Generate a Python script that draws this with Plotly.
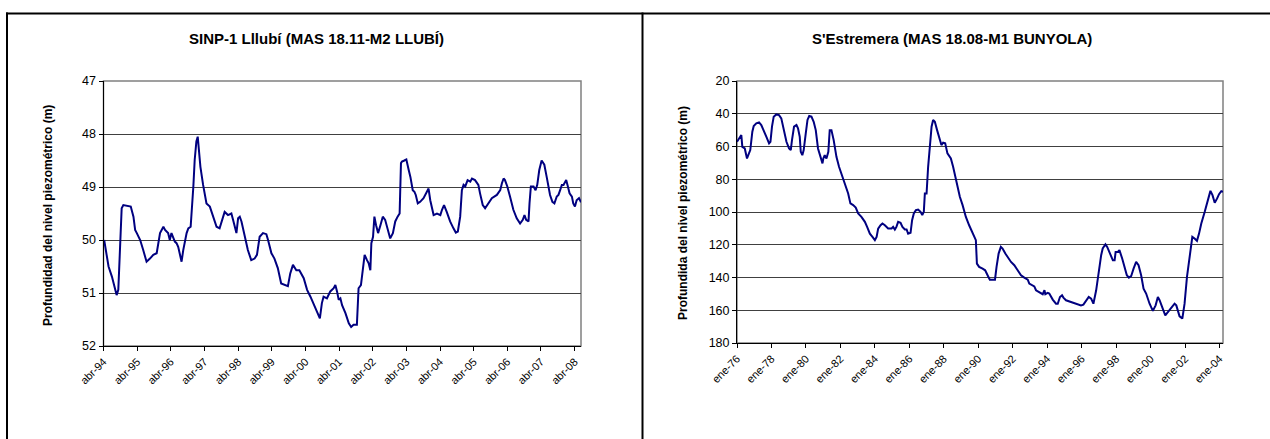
import plotly.graph_objects as go

# ---- SINP-1 Lllubí: depth of the piezometric level (m), time in decimal years
llubi_t = [
    1994.27, 1994.35, 1994.40, 1994.50, 1994.60, 1994.64, 1994.69, 1994.74, 1994.79, 1994.84,
    1994.99, 1995.06, 1995.14, 1995.19, 1995.24, 1995.34, 1995.43, 1995.53, 1995.63, 1995.73,
    1995.83, 1995.88, 1995.93, 1996.03, 1996.08, 1996.17, 1996.22, 1996.27, 1996.37, 1996.42,
    1996.47, 1996.57, 1996.62, 1996.72, 1996.77, 1996.84, 1996.87, 1996.92, 1996.96, 1997.01,
    1997.05, 1997.09, 1997.13, 1997.21, 1997.31, 1997.41, 1997.51, 1997.61, 1997.70, 1997.80,
    1997.85, 1997.95, 1998.05, 1998.10, 1998.20, 1998.25, 1998.30, 1998.35, 1998.45, 1998.54,
    1998.64, 1998.74, 1998.81, 1998.89, 1998.99, 1999.09, 1999.14, 1999.24, 1999.33, 1999.43,
    1999.53, 1999.63, 1999.73, 1999.80, 1999.88, 1999.98, 2000.07, 2000.20, 2000.30, 2000.40,
    2000.50, 2000.60, 2000.68, 2000.74, 2000.79, 2000.89, 2000.99, 2001.09, 2001.14, 2001.19,
    2001.24, 2001.29, 2001.34, 2001.44, 2001.54, 2001.61, 2001.68, 2001.78, 2001.83, 2001.90,
    2001.96, 2002.01, 2002.08, 2002.13, 2002.18, 2002.21, 2002.26, 2002.30, 2002.35, 2002.41,
    2002.48, 2002.55, 2002.62, 2002.67, 2002.72, 2002.77, 2002.85, 2002.92, 2002.99, 2003.05,
    2003.09, 2003.12, 2003.19, 2003.25, 2003.32, 2003.37, 2003.44, 2003.49, 2003.53, 2003.59,
    2003.66, 2003.76, 2003.86, 2003.91, 2003.96, 2004.01, 2004.06, 2004.16, 2004.26, 2004.31,
    2004.37, 2004.45, 2004.55, 2004.65, 2004.72, 2004.78, 2004.85, 2004.90, 2004.95, 2005.00,
    2005.07, 2005.15, 2005.20, 2005.29, 2005.39, 2005.44, 2005.52, 2005.59, 2005.69, 2005.79,
    2005.94, 2006.04, 2006.09, 2006.14, 2006.18, 2006.25, 2006.33, 2006.43, 2006.53, 2006.63,
    2006.71, 2006.76, 2006.81, 2006.88, 2006.91, 2006.95, 2007.03, 2007.09, 2007.14, 2007.20,
    2007.27, 2007.35, 2007.42, 2007.52, 2007.59, 2007.65, 2007.72, 2007.77, 2007.82, 2007.87,
    2007.92, 2008.00, 2008.05, 2008.10, 2008.17, 2008.21, 2008.26, 2008.31, 2008.38, 2008.44,
]
llubi_prof = [
    50.00, 50.31, 50.50, 50.69, 50.94, 51.04, 50.94, 50.31, 49.40, 49.34,
    49.37, 49.37, 49.56, 49.81, 49.87, 50.00, 50.19, 50.41, 50.35, 50.28,
    50.25, 50.06, 49.87, 49.75, 49.81, 49.87, 50.00, 49.87, 50.03, 50.06,
    50.13, 50.41, 50.19, 49.87, 49.78, 49.75, 49.50, 48.99, 48.49, 48.14,
    48.05, 48.30, 48.62, 48.96, 49.31, 49.37, 49.56, 49.75, 49.78, 49.59,
    49.47, 49.53, 49.50, 49.62, 49.87, 49.59, 49.56, 49.65, 49.94, 50.19,
    50.38, 50.35, 50.28, 49.94, 49.87, 49.89, 50.00, 50.25, 50.35, 50.53,
    50.82, 50.85, 50.87, 50.63, 50.47, 50.57, 50.57, 50.72, 50.94, 51.07,
    51.23, 51.38, 51.48, 51.19, 51.07, 51.10, 50.97, 50.91, 50.85, 50.97,
    51.13, 51.10, 51.23, 51.38, 51.57, 51.64, 51.60, 51.60, 50.91, 50.85,
    50.50, 50.28, 50.38, 50.44, 50.57, 50.06, 49.94, 49.56, 49.72, 49.87,
    49.72, 49.56, 49.62, 49.75, 49.87, 49.97, 49.87, 49.65, 49.56, 49.50,
    48.55, 48.52, 48.50, 48.48, 48.68, 48.81, 49.06, 49.09, 49.15, 49.31,
    49.28, 49.21, 49.09, 49.03, 49.25, 49.37, 49.53, 49.50, 49.53, 49.43,
    49.34, 49.47, 49.65, 49.78, 49.86, 49.84, 49.56, 49.06, 48.96, 48.99,
    48.87, 48.90, 48.84, 48.87, 48.96, 49.12, 49.34, 49.40, 49.31, 49.21,
    49.15, 49.06, 48.93, 48.84, 48.87, 48.99, 49.18, 49.43, 49.59, 49.69,
    49.62, 49.53, 49.62, 49.65, 49.31, 48.99, 48.99, 49.06, 48.96, 48.68,
    48.50, 48.58, 48.81, 49.15, 49.28, 49.31, 49.18, 49.15, 49.06, 48.96,
    48.96, 48.87, 48.99, 49.12, 49.18, 49.31, 49.37, 49.25, 49.21, 49.29,
]
llubi_ticks = [1994.25 + k for k in range(15)]
llubi_labels = ["abr-%02d" % (y % 100) for y in range(1994, 2009)]
llubi_yticks = [47, 48, 49, 50, 51, 52]

# ---- S'Estremera: depth of the piezometric level (m), time in decimal years
estremera_t = [
    1976.00, 1976.12, 1976.25, 1976.31, 1976.45, 1976.58, 1976.70, 1976.77, 1976.89, 1976.97,
    1977.12, 1977.28, 1977.41, 1977.55, 1977.70, 1977.86, 1977.94, 1978.03, 1978.13, 1978.28,
    1978.44, 1978.57, 1978.71, 1978.87, 1979.02, 1979.12, 1979.19, 1979.31, 1979.45, 1979.54,
    1979.64, 1979.70, 1979.79, 1979.87, 1979.99, 1980.09, 1980.19, 1980.32, 1980.45, 1980.57,
    1980.70, 1980.84, 1980.96, 1981.01, 1981.09, 1981.19, 1981.30, 1981.38, 1981.48, 1981.61,
    1981.77, 1981.92, 1982.06, 1982.16, 1982.31, 1982.45, 1982.58, 1982.74, 1982.89, 1983.03,
    1983.22, 1983.42, 1983.55, 1983.71, 1983.86, 1984.00, 1984.10, 1984.19, 1984.33, 1984.44,
    1984.58, 1984.77, 1984.97, 1985.06, 1985.16, 1985.25, 1985.35, 1985.49, 1985.60, 1985.74,
    1985.84, 1985.93, 1986.07, 1986.16, 1986.26, 1986.38, 1986.51, 1986.65, 1986.75, 1986.84,
    1986.90, 1987.00, 1987.09, 1987.19, 1987.29, 1987.38, 1987.48, 1987.61, 1987.77, 1987.86,
    1987.96, 1988.08, 1988.21, 1988.41, 1988.54, 1988.70, 1988.79, 1988.93, 1989.09, 1989.28,
    1989.47, 1989.67, 1989.86, 1989.92, 1990.05, 1990.25, 1990.40, 1990.54, 1990.67, 1990.83,
    1990.97, 1991.06, 1991.18, 1991.31, 1991.41, 1991.57, 1991.70, 1991.90, 1992.09, 1992.29,
    1992.48, 1992.67, 1992.87, 1992.96, 1993.12, 1993.25, 1993.35, 1993.50, 1993.64, 1993.74,
    1993.84, 1993.89, 1994.03, 1994.12, 1994.32, 1994.51, 1994.61, 1994.74, 1994.86, 1994.94,
    1995.09, 1995.38, 1995.67, 1995.96, 1996.10, 1996.26, 1996.41, 1996.55, 1996.68, 1996.84,
    1996.99, 1997.13, 1997.22, 1997.38, 1997.48, 1997.66, 1997.81, 1997.91, 1997.97, 1998.10,
    1998.19, 1998.35, 1998.48, 1998.62, 1998.74, 1998.87, 1999.01, 1999.16, 1999.30, 1999.45,
    1999.59, 1999.74, 1999.94, 2000.13, 2000.29, 2000.42, 2000.52, 2000.67, 2000.85, 2001.00,
    2001.20, 2001.39, 2001.49, 2001.59, 2001.68, 2001.84, 2001.97, 2002.11, 2002.26, 2002.42,
    2002.55, 2002.69, 2002.81, 2002.94, 2003.14, 2003.33, 2003.47, 2003.59, 2003.72, 2003.86,
    2003.97, 2004.10, 2004.20,
]
estremera_prof = [
    57.1, 55.1, 53.0, 60.2, 61.2, 67.3, 64.2, 62.2, 51.0, 47.5,
    45.9, 45.3, 46.9, 50.0, 54.0, 58.1, 57.1, 47.9, 41.8, 40.4,
    40.8, 42.8, 48.9, 57.1, 61.2, 62.2, 56.1, 47.9, 46.9, 48.9,
    54.0, 63.2, 65.3, 62.2, 52.0, 43.8, 41.4, 41.8, 44.9, 50.0,
    61.2, 66.3, 70.3, 67.3, 65.3, 67.3, 63.2, 50.0, 50.0, 56.1,
    66.3, 72.4, 76.5, 79.5, 83.6, 88.7, 94.8, 95.8, 97.3, 100.9,
    103.0, 106.0, 109.1, 113.2, 115.2, 117.2, 115.2, 110.1, 108.1, 107.0,
    108.1, 110.1, 110.1, 109.1, 110.7, 109.1, 106.0, 106.6, 109.1, 110.7,
    110.7, 113.2, 112.7, 105.0, 100.9, 98.9, 98.5, 99.9, 101.9, 99.9,
    88.7, 88.7, 72.4, 58.1, 47.9, 43.8, 44.9, 50.0, 55.1, 59.1,
    57.7, 58.1, 64.2, 67.3, 72.4, 80.5, 84.6, 90.7, 95.8, 103.0,
    108.1, 113.2, 117.2, 131.5, 133.5, 134.6, 135.6, 138.6, 141.3, 141.3,
    141.3, 133.5, 125.4, 121.3, 122.3, 125.4, 127.4, 130.5, 132.5, 135.6,
    138.6, 140.1, 141.3, 143.7, 144.7, 145.4, 147.8, 148.8, 149.4, 150.2,
    147.8, 150.2, 149.4, 149.8, 153.5, 156.0, 156.0, 151.9, 150.9, 152.3,
    153.9, 154.9, 156.0, 157.0, 156.6, 153.9, 151.9, 152.9, 156.0, 147.8,
    135.6, 126.4, 122.3, 119.7, 121.3, 125.4, 129.5, 129.5, 124.4, 124.4,
    123.3, 128.4, 133.5, 138.6, 140.1, 139.2, 134.6, 130.5, 132.5, 138.6,
    146.8, 149.8, 156.0, 160.4, 157.0, 151.9, 153.9, 158.0, 163.1, 161.1,
    158.4, 156.0, 157.0, 160.0, 163.7, 165.1, 156.0, 139.6, 126.4, 115.2,
    116.2, 117.6, 113.2, 107.0, 99.9, 91.7, 87.1, 89.7, 94.4, 91.7,
    89.1, 87.3, 87.7,
]
estremera_ticks = [1976 + 2 * k for k in range(15)]
estremera_labels = ["ene-%02d" % (y % 100) for y in range(1976, 2005, 2)]
estremera_yticks = list(range(20, 181, 20))

W, H = 1270, 439
FONT = "Liberation Sans, Arial, sans-serif"
LINE = "#000080"
GRID = "#404040"


def px(x):
    return x / W


def py(y):
    return 1 - y / H


fig = go.Figure()
fig.add_trace(go.Scatter(x=llubi_t, y=llubi_prof, mode="lines",
                         line=dict(color=LINE, width=2), xaxis="x", yaxis="y",
                         showlegend=False, hoverinfo="x+y"))
fig.add_trace(go.Scatter(x=estremera_t, y=estremera_prof, mode="lines",
                         line=dict(color=LINE, width=2), xaxis="x2", yaxis="y2",
                         showlegend=False, hoverinfo="x+y"))

xcommon = dict(showgrid=False, zeroline=False, showline=True, linecolor="black",
               linewidth=1, ticks="outside", ticklen=4, tickcolor="black",
               tickangle=-45, automargin=False,
               tickfont=dict(family=FONT, size=11, color="black"))
ycommon = dict(showgrid=True, gridcolor=GRID, gridwidth=1, zeroline=False,
               showline=True, linecolor="black", linewidth=1, ticks="outside",
               ticklen=4, tickcolor="black", automargin=False,
               tickfont=dict(family=FONT, size=12.5, color="black"))

fig.update_layout(
    width=W, height=H, autosize=False,
    margin=dict(l=0, r=0, t=0, b=0, pad=0),
    paper_bgcolor="white", plot_bgcolor="white",
    xaxis=dict(domain=[px(103.5), px(581)], range=[1994.25, 2008.44],
               tickvals=llubi_ticks, ticktext=llubi_labels, anchor="y", **xcommon),
    yaxis=dict(domain=[py(346), py(81)], range=[52, 47], tickvals=llubi_yticks,
               anchor="x", **ycommon),
    xaxis2=dict(domain=[px(737), px(1223)], range=[1976.0, 2004.2],
                tickvals=estremera_ticks, ticktext=estremera_labels, anchor="y2", **xcommon),
    yaxis2=dict(domain=[py(343), py(81)], range=[180, 20], tickvals=estremera_yticks,
                anchor="x2", **ycommon),
)

# gray plot-area border (top and right edges)
for xr, yr in (("x domain", "y domain"), ("x2 domain", "y2 domain")):
    fig.add_shape(type="rect", xref=xr, yref=yr, x0=0, x1=1, y0=0, y1=1,
                  line=dict(color="#808080", width=1.5), layer="below")

# outer frame of the two panels
frame = dict(color="black", width=2)
fig.add_shape(type="line", xref="paper", yref="paper", x0=px(6), x1=1,
              y0=py(13.5), y1=py(13.5), line=frame)
fig.add_shape(type="line", xref="paper", yref="paper", x0=px(7), x1=px(7),
              y0=0, y1=py(12.5), line=frame)
fig.add_shape(type="line", xref="paper", yref="paper", x0=px(642.5), x1=px(642.5),
              y0=0, y1=py(12.5), line=frame)

title_font = dict(family=FONT, size=15, color="black")
ytitle_font = dict(family=FONT, size=12, color="black")
fig.add_annotation(text="<b>SINP-1 Lllubí (MAS 18.11-M2 LLUBÍ)</b>", xref="paper", yref="paper",
                   x=px(316), y=py(38), xanchor="center", yanchor="middle",
                   showarrow=False, font=title_font)
fig.add_annotation(text="<b>S'Estremera (MAS 18.08-M1 BUNYOLA)</b>", xref="paper", yref="paper",
                   x=px(952), y=py(38), xanchor="center", yanchor="middle",
                   showarrow=False, font=title_font)
fig.add_annotation(text="<b>Profundidad del nivel piezométrico (m)</b>", xref="paper", yref="paper",
                   x=px(48), y=py(216), xanchor="center", yanchor="middle", textangle=-90,
                   showarrow=False, font=ytitle_font)
fig.add_annotation(text="<b>Profundida del nivel piezométrico (m)</b>", xref="paper", yref="paper",
                   x=px(683), y=py(213), xanchor="center", yanchor="middle", textangle=-90,
                   showarrow=False, font=ytitle_font)

fig.write_html("out.html")
